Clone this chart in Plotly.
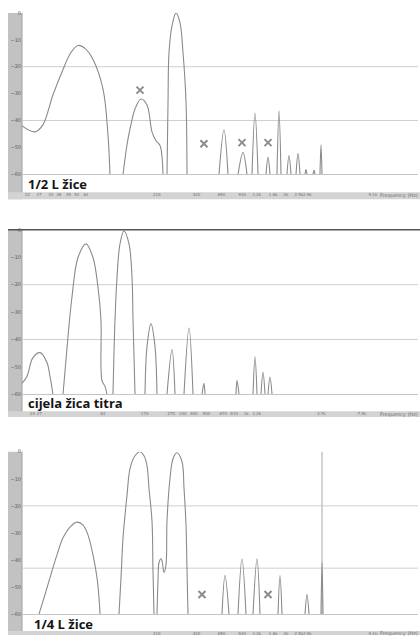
import plotly.graph_objects as go

W, H = 420, 638
FLOOR = -60.0

# ---------------- spectrum outlines (frequency in Hz, level in dBFS) ----------------
# one inner list per lobe of the spectrum

# "1/2 L žice"
half_hz = [
    [20, 25.1, 28.8, 34.3, 40.9, 47.0, 53.1, 60.0, 69.0, 82.2, 89.6, 92.8],
    [116.5, 124.9, 131.6, 143.6, 159.4, 177, 193.1, 207.1, 222.1, 234],
    [250.9, 255.4, 259.8, 273.8, 293.6, 314.8, 331.7, 349.6, 355.7],
    [621.6, 678, 727],
    [866, 945, 1013],
    [1105, 1165, 1228],
    [1411, 1461, 1513],
    [1709, 1770, 1833],
    [2035, 2107, 2182],
    [2382, 2466, 2554],
    [2786, 2836, 2885],
    [3204, 3260, 3318],
    [3618, 3683, 3748],
]
half_db = [
    [-42.0, -44.2, -41.6, -30.5, -21.0, -14.7, -12.1, -13.2, -17.3, -28.3, -45.3, -60],
    [-60, -49.0, -43.1, -35.7, -32.0, -34.2, -44.2, -47.5, -49.3, -60],
    [-60, -33.1, -14.7, -4.8, 0, -3.7, -14.7, -33.1, -60],
    [-60, -43.4, -60],
    [-60, -51.9, -60],
    [-60, -37.2, -60],
    [-60, -53.7, -60],
    [-60, -36.4, -60],
    [-60, -53.0, -60],
    [-60, -52.3, -60],
    [-60, -58.2, -60],
    [-60, -58.5, -60],
    [-60, -49.0, -60],
]
half_mark_hz = [156.7, 478, 928, 1461]
half_mark_db = [-28.7, -48.6, -48.2, -48.2]

# "cijela žica titra"
whole_hz = [
    [20, 21.8, 24.2, 27.4, 30.9, 32.6, 34.3],
    [40.9, 44.6, 47.8, 53.1, 61.1, 69.0, 75.3, 79.3, 80.7, 85.1, 88.1],
    [97.8, 101.3, 104.9, 110.5, 118.5, 129.3, 136.3, 138.7, 143.6],
    [170.9, 177, 189.8, 203.5, 210.7],
    [250.9, 273.8, 288.5],
    [337.6, 368.4, 395],
    [462, 478, 487],
    [836, 851, 881],
    [1125, 1165, 1206],
    [1293, 1339, 1387],
    [1461, 1513, 1567],
]
whole_db = [
    [-56.0, -53.5, -46.6, -44.8, -48.4, -53.5, -60],
    [-60, -39.0, -24.6, -10.1, -5.1, -10.1, -21.0, -32.9, -55.0, -57.1, -60],
    [-60, -32.9, -17.3, -5.1, -0.4, -5.1, -17.3, -32.9, -60],
    [-60, -42.6, -34.3, -42.6, -60],
    [-60, -43.7, -60],
    [-60, -35.8, -60],
    [-60, -56.0, -60],
    [-60, -54.9, -60],
    [-60, -46.3, -60],
    [-60, -52.0, -60],
    [-60, -53.8, -60],
]

# "1/4 L žice"
quarter_hz = [
    [26.9, 29.9, 32.6, 36.8, 40.9, 46.2, 52.2, 58.0, 63.2, 69.0, 74.0, 76.6, 78.0],
    [108.6, 112.5, 116.5, 124.9, 131.6, 143.6, 156.7, 168, 177, 183.3, 193.1, 196.5, 200],
    [210.7, 214.5, 218.2, 226, 229.9, 238.1, 246.6, 250.9, 264.4, 278.6, 298.8, 326,
     337.6, 349.6, 355.7, 362],
    [655, 690, 740],
    [866, 928, 995],
    [1125, 1206, 1271],
    [1740, 1801, 1865],
    [2786, 2885, 2988],
    [3683, 3748, 3815],
]
quarter_db = [
    [-60, -52.7, -46.5, -38.1, -31.8, -27.8, -26.0, -27.1, -30.7, -38.1, -46.5, -53.8, -60],
    [-60, -46.5, -31.8, -16.1, -6.2, -1.5, 0, -1.5, -5.1, -13.5, -25.6, -43.9, -60],
    [-60, -47.6, -41.0, -39.5, -40.2, -44.6, -41.7, -25.6, -9.9, -2.6, -0.4, -3.7,
     -13.5, -27.1, -43.9, -60],
    [-60, -45.7, -60],
    [-60, -39.5, -60],
    [-60, -39.5, -60],
    [-60, -45.7, -60],
    [-60, -52.7, -60],
    [-60, -41.0, -60],
]
quarter_mark_hz = [462, 1461]
quarter_mark_db = [-52.7, -52.7]
quarter_cursor_hz = 3748

# horizontal reference lines (dBFS) for each panel
grid_levels = [[-20, -40], [-20, -40], [-20, -43]]

# frequency tick positions (Hz) on each panel's ruler
half_ticks = [22, 27, 33, 38, 45, 52, 61, 210, 420, 650, 930, 1200,
              1600, 2000, 2500, 2900, 9100]
whole_ticks = [24, 27, 82, 170, 270, 330, 400, 500, 670, 810, 1000, 1200,
               3700, 7500]
quarter_ticks = [210, 420, 650, 930, 1200, 1600, 2000, 2500, 2900, 9100]

level_ticks = [-60, -50, -40, -30, -20, -10, 0]

titles = ["1/2 L žice", "cijela žica titra", "1/4 L žice"]

# ---------------- layout geometry (pixels) ----------------
PLOT_LEFT, PLOT_RIGHT, STRIP_LEFT = 22, 418, 8
panels = [
    dict(top=10, base=173, bar0=191, bar1=198, tx=26, ty=183),
    dict(top=229, base=395, bar0=412, bar1=418, tx=26, ty=404),
    dict(top=453, base=617, bar0=634, bar1=638, tx=32, ty=627),
]


def py(p):
    return 1 - p / H


def px(p):
    return p / W


def flatten(lobes_x, lobes_y):
    xs, ys = [], []
    for lx, ly in zip(lobes_x, lobes_y):
        xs += list(lx) + [None]
        ys += list(ly) + [None]
    return xs, ys


LINE = "#8a8a8a"
fig = go.Figure()

series = [(half_hz, half_db), (whole_hz, whole_db), (quarter_hz, quarter_db)]
marks = [(half_mark_hz, half_mark_db), ([], []), (quarter_mark_hz, quarter_mark_db)]
ticks = [half_ticks, whole_ticks, quarter_ticks]

shapes, annotations = [], []
for i, (geo, (lx, ly), (mx, my), tv) in enumerate(zip(panels, series, marks, ticks)):
    n = "" if i == 0 else str(i + 1)
    xa, ya = "x" + n, "y" + n
    xs, ys = flatten(lx, ly)
    fig.add_trace(go.Scatter(
        x=xs, y=ys, xaxis=xa, yaxis=ya, mode="lines",
        line=dict(color=LINE, width=1.1, shape="spline", smoothing=1.0),
        connectgaps=False, hoverinfo="skip"))
    if mx:
        fig.add_trace(go.Scatter(
            x=mx, y=my, xaxis=xa, yaxis=ya, mode="markers",
            marker=dict(symbol="x-thin", size=7, color="#8c8c8c",
                        line=dict(color="#8c8c8c", width=2)),
            cliponaxis=False, hoverinfo="skip"))

    fig.update_layout({
        "xaxis" + n: dict(
            type="log", range=[1.30103, 4.30103],
            domain=[px(PLOT_LEFT), px(PLOT_RIGHT)],
            anchor=ya, showgrid=False, zeroline=False,
            showline=True, linecolor="#c4c4c4", linewidth=1,
            tickvals=tv, tickformat="~s", ticks="", tickangle=0,
            ticklabelstandoff=geo["bar0"] - geo["base"] - 2,
            tickfont=dict(size=4, color="#707070", family="DejaVu Sans"),
        ),
        "yaxis" + n: dict(
            range=[FLOOR, 0], domain=[py(geo["base"]), py(geo["top"])],
            anchor=xa, showgrid=False, zeroline=False, showline=False,
            tickvals=level_ticks, ticks="",
            tickfont=dict(size=5, color="#5a5a5a", family="DejaVu Sans"),
        ),
    })

    # grey level strip on the left
    shapes.append(dict(type="rect", xref="paper", yref="paper", layer="below",
                       x0=px(STRIP_LEFT), x1=px(PLOT_LEFT),
                       y0=py(geo["bar1"]), y1=py(geo["top"]),
                       fillcolor="#c2c2c2", line=dict(width=0)))
    shapes.append(dict(type="line", xref="paper", yref="paper", layer="below",
                       x0=px(PLOT_LEFT), x1=px(PLOT_LEFT),
                       y0=py(geo["bar1"]), y1=py(geo["top"]),
                       line=dict(color="#a0a0a0", width=1)))
    # frequency ruler bar
    shapes.append(dict(type="rect", xref="paper", yref="paper", layer="below",
                       x0=px(STRIP_LEFT), x1=1,
                       y0=py(geo["bar1"]), y1=py(geo["bar0"]),
                       fillcolor="#d3d3d3", line=dict(width=0)))
    # level reference lines
    for g in grid_levels[i]:
        shapes.append(dict(type="line", xref=xa + " domain", yref=ya, layer="below",
                           x0=0, x1=1, y0=g, y1=g,
                           line=dict(color="#cfcfcf", width=1)))
    annotations.append(dict(
        text=titles[i], xref="paper", yref="paper",
        x=px(geo["tx"]), y=py(geo["ty"]), xanchor="left", yanchor="middle",
        showarrow=False, font=dict(family="Open Sans", size=13, color="#151515", weight="bold")))
    annotations.append(dict(
        text="Frequency (Hz)", xref="paper", yref="paper",
        x=1, y=py((geo["bar0"] + geo["bar1"]) / 2), xanchor="right", yanchor="middle",
        showarrow=False, font=dict(family="DejaVu Sans", size=5, color="#707070")))

# dark frame line over the middle panel
shapes.append(dict(type="line", xref="paper", yref="paper",
                   x0=px(STRIP_LEFT), x1=1, y0=py(229), y1=py(229),
                   line=dict(color="#555555", width=1.5)))
# cursor line in the bottom panel
shapes.append(dict(type="line", xref="x3", yref="y3 domain", layer="below",
                   x0=quarter_cursor_hz, x1=quarter_cursor_hz, y0=0, y1=1,
                   line=dict(color="#c4c4c4", width=1.5)))

fig.update_layout(
    width=W, height=H, margin=dict(l=0, r=0, t=0, b=0),
    paper_bgcolor="white", plot_bgcolor="white", showlegend=False,
    shapes=shapes, annotations=annotations,
)

fig.write_html("out.html")
